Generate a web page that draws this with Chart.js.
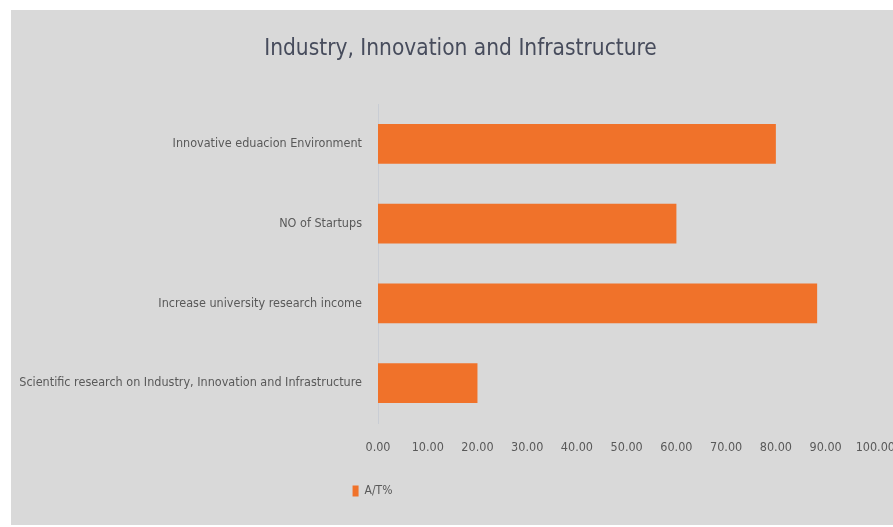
<!DOCTYPE html>
<html>
<head>
<meta charset="utf-8">
<script src="https://cdn.jsdelivr.net/npm/chart.js@4"></script>
<style>
    html, body { margin: 0; padding: 0; background: #ffffff; overflow: hidden; }
    #wrap { position: absolute; left: 11px; top: 10px; width: 893px; height: 515px; background: #d9d9d9; }
</style>
</head>
<body>
<div id="wrap"><canvas id="chart"></canvas></div>
<script>
// --- DATA ---
const categories = [
    'Innovative eduacion Environment',
    'NO of Startups',
    'Increase university research income',
    'Scientific research on Industry, Innovation and Infrastructure'
];
const atValues = [80, 60, 88.3, 20];
const seriesName = 'A/T%';
const chartTitle = 'Industry, Innovation and Infrastructure';

const NARROW = '"DejaVu Sans Condensed", "Liberation Sans Narrow", "Liberation Sans", sans-serif';

// shift the legend left so it sits under the plot like the original
const legendShift = {
    id: 'legendShift',
    afterLayout(chart) {
        const lg = chart.legend;
        if (!lg) return;
        lg.left -= 88; lg.right -= 88;
    }
};

new Chart(document.getElementById('chart'), {
    type: 'bar',
    data: {
        labels: categories,
        datasets: [{
            label: seriesName,
            data: atValues,
            backgroundColor: '#f0722a',
            borderWidth: 0,
            barPercentage: 0.5,
            categoryPercentage: 1.0
        }]
    },
    options: {
        indexAxis: 'y',
        responsive: true,
        maintainAspectRatio: false,
        animation: false,
        layout: { padding: { top: 0, right: 0, bottom: 18, left: 6 } },
        scales: {
            x: {
                min: 0, max: 100,
                afterFit: s => { s.height = 52; },
                ticks: {
                    stepSize: 10,
                    autoSkip: false,
                    maxRotation: 0,
                    minRotation: 0,
                    color: '#595959',
                    padding: 9,
                    font: { family: NARROW, size: 12.5 },
                    callback: v => Number(v).toFixed(2)
                },
                grid: { display: false },
                border: { display: false }
            },
            y: {
                afterFit: s => { s.width = 361; },
                ticks: {
                    color: '#595959',
                    padding: 8,
                    font: { family: NARROW, size: 12.5 }
                },
                grid: { display: false },
                border: { display: true, color: '#c9cdd4', width: 1 }
            }
        },
        plugins: {
            title: {
                display: true,
                text: chartTitle,
                color: '#474c5c',
                font: { family: NARROW, size: 22.5, weight: 'normal' },
                padding: { top: 26, bottom: 41 }
            },
            legend: {
                position: 'bottom',
                labels: {
                    color: '#595959',
                    boxWidth: 6,
                    boxHeight: 11,
                    padding: 10,
                    font: { family: NARROW, size: 12 }
                }
            },
            tooltip: { enabled: false }
        }
    },
    plugins: [legendShift]
});
</script>
</body>
</html>
